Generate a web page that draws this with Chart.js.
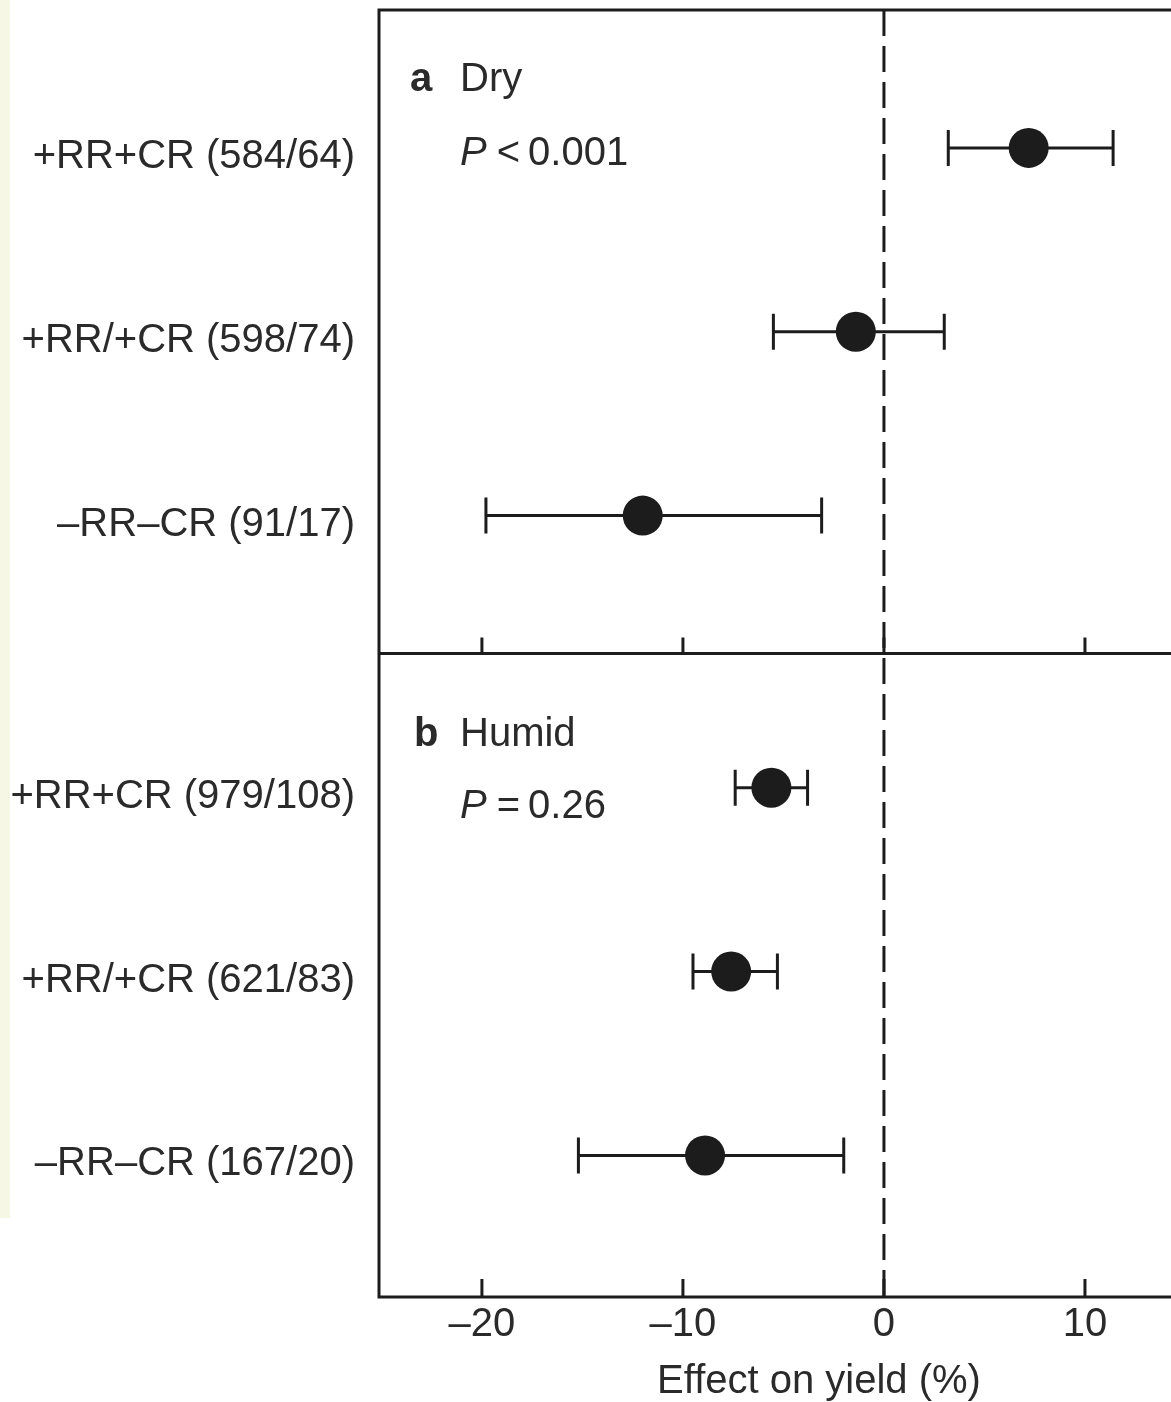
<!DOCTYPE html>
<html>
<head>
<meta charset="utf-8">
<script src="https://cdn.jsdelivr.net/npm/chart.js@4.4.1/dist/chart.umd.min.js"></script>
<style>
  html, body { margin: 0; padding: 0; background: #fff; }
  #wrap { position: relative; width: 1171px; height: 1402px; }
  #strip { position: absolute; left: 0; top: 0; width: 10px; height: 1218px; background: #f6f7e4; }
  #myChart { position: absolute; left: 0; top: 0; }
</style>
</head>
<body>
<div id="wrap">
  <div id="strip"></div>
  <canvas id="myChart" width="1171" height="1402"></canvas>
</div>
<script>
const labels = [
    '+RR+CR (584/64)', '+RR/+CR (598/74)', '\u2013RR\u2013CR (91/17)',
    '+RR+CR (979/108)', '+RR/+CR (621/83)', '\u2013RR\u2013CR (167/20)'
];
const panel = [0, 0, 0, 1, 1, 1];
const effect = [7.2, -1.4, -12.0, -5.6, -7.6, -8.9];
const lower = [3.2, -5.5, -19.8, -7.4, -9.5, -15.2];
const upper = [11.4, 3.0, -3.1, -3.8, -5.3, -2.0];
const xTicks = [-20, -10, 0, 10];
const panelTitles = [['a', 'Dry'], ['b', 'Humid']];
const pValues = [['<', '0.001'], ['=', '0.26']];

const ink = '#1c1c1c';
const txt = '#2a2a2a';
const fam = '"Liberation Sans", Arial, sans-serif';
Chart.defaults.font.family = fam;

// row positions on the y scale: 3 rows per panel, small extra gap between panels
const rowPos = labels.map((l, i) => i + 1 + panel[i] * 0.48);
const divider = 3.75;

const points = effect.map((v, i) => ({ x: v, y: rowPos[i] }));

const noPad = (s) => {
    s.paddingTop = 0;
    s.paddingBottom = 0;
    s.paddingLeft = 0;
    s.paddingRight = 0;
};

const framePlugin = {
    id: 'frame',
    beforeDatasetsDraw(chart) {
        const { ctx, chartArea: a, scales: { x, y } } = chart;
        ctx.save();
        ctx.strokeStyle = ink;
        ctx.lineCap = 'butt';

        // zero line
        ctx.lineWidth = 3;
        ctx.setLineDash([26, 10]);
        const x0 = x.getPixelForValue(0);
        ctx.beginPath();
        ctx.moveTo(x0, a.top);
        ctx.lineTo(x0, a.bottom);
        ctx.stroke();
        ctx.setLineDash([]);

        // frame: left, top, bottom, divider
        ctx.lineWidth = 3;
        const yd = y.getPixelForValue(divider);
        ctx.beginPath();
        ctx.moveTo(a.right, a.top);
        ctx.lineTo(a.left, a.top);
        ctx.lineTo(a.left, a.bottom);
        ctx.lineTo(a.right, a.bottom);
        ctx.moveTo(a.left, yd);
        ctx.lineTo(a.right, yd);
        ctx.stroke();

        // inward ticks on divider and bottom
        ctx.lineWidth = 3;
        ctx.beginPath();
        xTicks.forEach(v => {
            const px = x.getPixelForValue(v);
            ctx.moveTo(px, yd);
            ctx.lineTo(px, yd - 16);
            ctx.moveTo(px, a.bottom);
            ctx.lineTo(px, a.bottom - 18);
        });
        ctx.stroke();

        // error bars
        ctx.lineWidth = 3;
        ctx.beginPath();
        effect.forEach((v, i) => {
            const py = y.getPixelForValue(rowPos[i]);
            const l = x.getPixelForValue(lower[i]);
            const r = x.getPixelForValue(upper[i]);
            ctx.moveTo(l, py);
            ctx.lineTo(r, py);
            ctx.moveTo(l, py - 18);
            ctx.lineTo(l, py + 18);
            ctx.moveTo(r, py - 18);
            ctx.lineTo(r, py + 18);
        });
        ctx.stroke();
        ctx.restore();
    },
    afterDraw(chart) {
        const { ctx } = chart;
        ctx.save();
        ctx.fillStyle = txt;
        ctx.textBaseline = 'middle';
        ctx.textAlign = 'left';
        const titleY = [80, 735];
        const pY = [154, 807];
        const letterX = [410, 414];
        panelTitles.forEach((t, i) => {
            ctx.font = 'bold 40px ' + fam;
            ctx.fillText(t[0], letterX[i], titleY[i]);
            ctx.font = '40px ' + fam;
            ctx.fillText(t[1], 460, titleY[i]);

            ctx.font = 'italic 40px ' + fam;
            ctx.fillText('P', 460, pY[i]);
            let px = 460 + ctx.measureText('P').width + 10;
            ctx.font = '40px ' + fam;
            ctx.fillText(pValues[i][0], px, pY[i]);
            px += ctx.measureText(pValues[i][0]).width + 8;
            ctx.fillText(pValues[i][1], px, pY[i]);
        });

        // axis title
        ctx.textAlign = 'center';
        ctx.font = '40px ' + fam;
        ctx.fillText('Effect on yield (%)', 819, 1382);
        ctx.restore();
    }
};

const data = {
    datasets: [{
        label: 'Effect on yield',
        data: points,
        backgroundColor: ink,
        borderColor: ink,
        pointRadius: 20,
        pointHoverRadius: 20,
        borderWidth: 0
    }]
};

const conf = {
    type: 'scatter',
    data,
    options: {
        responsive: false,
        animation: false,
        layout: { autoPadding: false, padding: { top: 10, right: 0, bottom: 0, left: 0 } },
        plugins: {
            legend: { display: false },
            tooltip: { enabled: false }
        },
        scales: {
            x: {
                type: 'linear',
                min: -25.12,
                max: 14.28,
                afterBuildTicks: (s) => { s.ticks = xTicks.map(v => ({ value: v })); },
                afterFit: (s) => { s.height = 105; noPad(s); },
                grid: { display: false, drawTicks: false },
                border: { display: false },
                ticks: {
                    color: txt,
                    font: { size: 40 },
                    padding: 4,
                    maxRotation: 0,
                    autoSkip: false,
                    callback: (v) => v < 0 ? '\u2013' + Math.abs(v) : String(v)
                }
            },
            y: {
                type: 'linear',
                reverse: true,
                min: 0.25,
                max: 7.25,
                afterBuildTicks: (s) => { s.ticks = rowPos.map(v => ({ value: v })); },
                afterFit: (s) => { s.width = 379; noPad(s); },
                grid: { display: false, drawTicks: false },
                border: { display: false },
                ticks: {
                    color: txt,
                    font: { size: 40 },
                    padding: 24,
                    labelOffset: 9,
                    autoSkip: false,
                    callback: (v, i) => labels[i]
                }
            }
        }
    },
    plugins: [framePlugin]
};

const myChart = new Chart(document.getElementById('myChart'), conf);
</script>
</body>
</html>
